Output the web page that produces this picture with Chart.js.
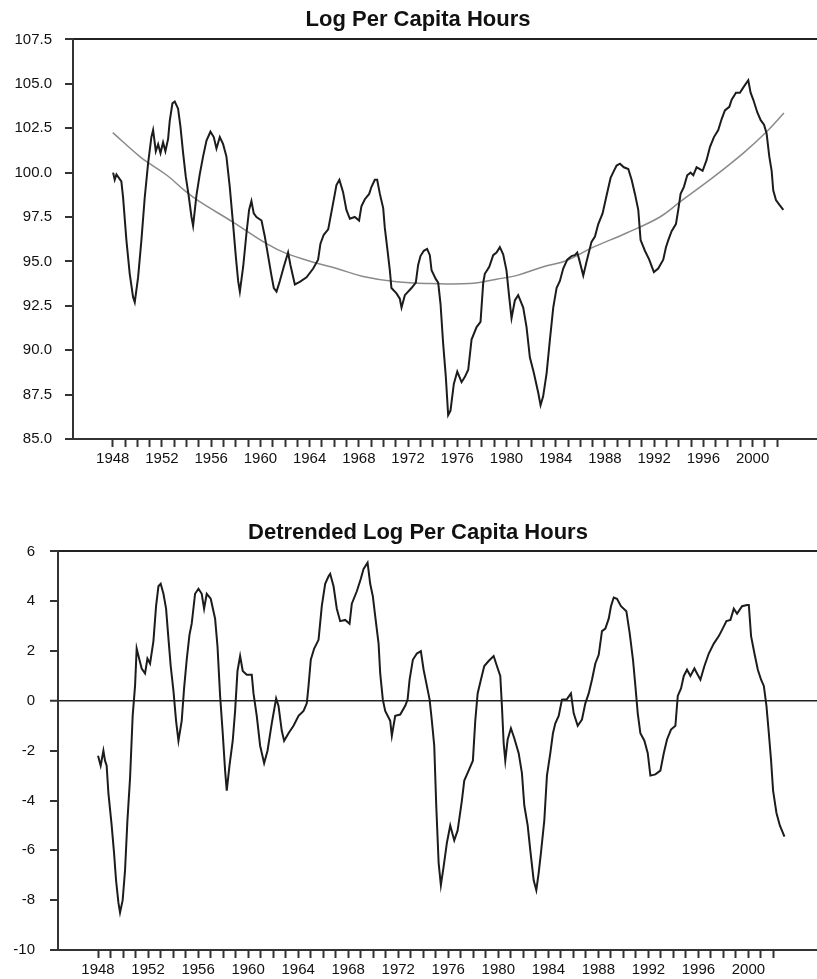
<!DOCTYPE html>
<html>
<head>
<meta charset="utf-8">
<script src="https://cdn.jsdelivr.net/npm/chart.js@4.4.1/dist/chart.umd.min.js"></script>
<style>
html, body { margin: 0; padding: 0; background: #fff; overflow: hidden; width: 817px; height: 979px; }
#hoursChart { position: absolute; left: 0; top: 0; }
#detrendedChart { position: absolute; left: 0; top: 480px; }
</style>
</head>
<body>
<canvas id="hoursChart" width="836" height="480"></canvas>
<canvas id="detrendedChart" width="836" height="506"></canvas>
<script>
// log per capita hours (year, value)
var hoursYears = [1948.03, 1948.16, 1948.30, 1948.70, 1948.84, 1949.11, 1949.38, 1949.65, 1949.79, 1950.06,
    1950.33, 1950.60, 1950.87, 1951.14, 1951.28, 1951.50, 1951.69, 1951.88, 1952.09, 1952.28,
    1952.50, 1952.63, 1952.85, 1953.04, 1953.31, 1953.50, 1953.72, 1953.93, 1954.15, 1954.40,
    1954.53, 1954.80, 1955.07, 1955.34, 1955.62, 1955.94, 1956.21, 1956.43, 1956.70, 1956.97,
    1957.24, 1957.51, 1957.78, 1958.00, 1958.19, 1958.33, 1958.60, 1958.87, 1959.08, 1959.27,
    1959.46, 1959.68, 1960.09, 1960.36, 1960.63, 1960.90, 1961.09, 1961.31, 1961.58, 1961.90,
    1962.25, 1962.44, 1962.80, 1963.20, 1963.75, 1964.29, 1964.69, 1964.88, 1965.15, 1965.51,
    1965.78, 1966.05, 1966.18, 1966.42, 1966.72, 1966.99, 1967.27, 1967.67, 1968.02, 1968.21,
    1968.49, 1968.84, 1969.03, 1969.30, 1969.49, 1969.71, 1969.98, 1970.11, 1970.30, 1970.52,
    1970.65, 1971.06, 1971.33, 1971.47, 1971.74, 1972.28, 1972.63, 1972.82, 1973.01, 1973.28,
    1973.55, 1973.77, 1973.91, 1974.26, 1974.45, 1974.64, 1974.85, 1975.07, 1975.26, 1975.45,
    1975.72, 1976.00, 1976.35, 1976.62, 1976.89, 1977.16, 1977.57, 1977.89, 1978.11, 1978.24,
    1978.60, 1978.92, 1979.19, 1979.46, 1979.73, 1980.00, 1980.22, 1980.41, 1980.68, 1980.95,
    1981.36, 1981.63, 1981.90, 1982.23, 1982.58, 1982.77, 1982.98, 1983.26, 1983.53, 1983.80,
    1984.07, 1984.34, 1984.61, 1984.94, 1985.29, 1985.56, 1985.75, 1985.91, 1986.24, 1986.51,
    1986.91, 1987.19, 1987.46, 1987.81, 1988.13, 1988.46, 1988.73, 1988.95, 1989.22, 1989.54,
    1989.90, 1990.17, 1990.44, 1990.71, 1990.90, 1991.25, 1991.60, 1991.98, 1992.33, 1992.74,
    1992.96, 1993.15, 1993.42, 1993.77, 1993.96, 1994.15, 1994.42, 1994.69, 1994.96, 1995.18,
    1995.45, 1995.72, 1995.94, 1996.26, 1996.54, 1996.86, 1997.21, 1997.48, 1997.75, 1998.11,
    1998.30, 1998.65, 1998.97, 1999.25, 1999.65, 1999.84, 2000.06, 2000.38, 2000.66, 2000.93,
    2001.14, 2001.36, 2001.55, 2001.68, 2001.90, 2002.17, 2002.50];
var hoursValues = [100.0, 99.6, 99.9, 99.5, 98.6, 96.2, 94.3, 93.0, 92.7, 94.1,
    96.2, 98.6, 100.5, 102.0, 102.4, 101.2, 101.6, 101.1, 101.7, 101.2,
    101.9, 102.9, 103.9, 104.0, 103.6, 102.6, 101.1, 99.8, 98.8, 97.5,
    97.0, 98.7, 99.9, 100.9, 101.8, 102.3, 102.0, 101.35, 102.0, 101.6,
    100.9, 99.2, 97.1, 95.3, 93.9, 93.3, 94.7, 96.6, 97.9, 98.4,
    97.7, 97.5, 97.3, 96.4, 95.3, 94.2, 93.5, 93.3, 93.9, 94.7,
    95.5, 94.8, 93.7, 93.85, 94.1, 94.6, 95.1, 96.0, 96.5, 96.8,
    97.8, 98.8, 99.3, 99.6, 98.9, 97.9, 97.4, 97.5, 97.3, 98.1,
    98.5, 98.8, 99.2, 99.6, 99.6, 98.8, 98.0, 96.9, 95.8, 94.5,
    93.5, 93.2, 92.9, 92.4, 93.1, 93.5, 93.8, 94.8, 95.3, 95.6,
    95.7, 95.35, 94.5, 94.0, 93.8, 92.6, 90.4, 88.5, 86.35, 86.6,
    88.1, 88.8, 88.2, 88.5, 88.9, 90.6, 91.3, 91.6, 93.8, 94.3,
    94.7, 95.35, 95.5, 95.8, 95.4, 94.5, 93.0, 91.8, 92.8, 93.1,
    92.4, 91.3, 89.6, 88.7, 87.6, 86.9, 87.4, 88.7, 90.6, 92.4,
    93.5, 93.9, 94.6, 95.1, 95.3, 95.35, 95.5, 95.1, 94.2, 95.0,
    96.1, 96.4, 97.1, 97.7, 98.7, 99.7, 100.1, 100.4, 100.5, 100.3,
    100.2, 99.6, 98.8, 97.9, 96.2, 95.6, 95.1, 94.4, 94.6, 95.1,
    95.8, 96.2, 96.7, 97.1, 97.9, 98.8, 99.2, 99.85, 100.0, 99.85,
    100.3, 100.2, 100.1, 100.7, 101.45, 102.0, 102.4, 103.0, 103.5, 103.7,
    104.1, 104.5, 104.5, 104.8, 105.2, 104.5, 104.1, 103.4, 102.95, 102.7,
    102.2, 100.9, 100.1, 99.0, 98.45, 98.2, 97.9];

// fitted trend (grey curve)
var trendYears = [1948.0, 1950.2, 1951.0, 1952.4, 1954.0, 1955.1, 1957.8, 1960.5, 1962.1, 1964.6,
    1966.2, 1968.35, 1971.06, 1973.8, 1977.0, 1979.2, 1980.8, 1983.0, 1984.9, 1987.05,
    1989.76, 1992.47, 1994.1, 1996.54, 1999.25, 2001.14, 2002.55];
var trendValues = [102.25, 100.9, 100.5, 99.85, 98.9, 98.35, 97.2, 96.0, 95.45, 94.9,
    94.6, 94.15, 93.85, 93.75, 93.75, 94.0, 94.2, 94.7, 95.05, 95.8,
    96.6, 97.5, 98.35, 99.6, 101.1, 102.3, 103.35];

// detrended series
var detrendYears = [1948.0, 1948.21, 1948.43, 1948.56, 1948.69, 1948.83, 1949.09, 1949.28, 1949.44, 1949.63,
    1949.76, 1949.97, 1950.16, 1950.35, 1950.56, 1950.77, 1950.96, 1951.09, 1951.31, 1951.49,
    1951.76, 1951.95, 1952.16, 1952.43, 1952.64, 1952.83, 1953.01, 1953.23, 1953.44, 1953.63,
    1953.81, 1954.03, 1954.24, 1954.43, 1954.69, 1954.88, 1955.09, 1955.31, 1955.49, 1955.76,
    1956.03, 1956.29, 1956.48, 1956.69, 1957.01, 1957.36, 1957.55, 1957.76, 1957.97, 1958.16,
    1958.29, 1958.51, 1958.77, 1958.96, 1959.15, 1959.36, 1959.57, 1959.89, 1960.29, 1960.43,
    1960.69, 1960.96, 1961.28, 1961.55, 1961.89, 1962.24, 1962.43, 1962.69, 1962.88, 1963.23,
    1963.63, 1964.03, 1964.43, 1964.69, 1964.83, 1965.01, 1965.28, 1965.63, 1965.89, 1966.16,
    1966.43, 1966.56, 1966.83, 1967.09, 1967.36, 1967.76, 1968.11, 1968.29, 1968.69, 1969.01,
    1969.23, 1969.55, 1969.76, 1969.97, 1970.16, 1970.43, 1970.56, 1970.77, 1970.96, 1971.36,
    1971.49, 1971.76, 1972.16, 1972.56, 1972.75, 1972.91, 1973.17, 1973.49, 1973.81, 1974.03,
    1974.29, 1974.51, 1974.69, 1974.88, 1975.04, 1975.23, 1975.41, 1975.63, 1975.89, 1976.16,
    1976.48, 1976.75, 1977.09, 1977.28, 1977.63, 1977.97, 1978.16, 1978.35, 1978.61, 1978.88,
    1979.23, 1979.63, 1979.89, 1980.16, 1980.29, 1980.43, 1980.56, 1980.75, 1981.01, 1981.28,
    1981.63, 1981.89, 1982.08, 1982.35, 1982.56, 1982.83, 1983.04, 1983.23, 1983.41, 1983.68,
    1983.89, 1984.16, 1984.37, 1984.56, 1984.83, 1985.09, 1985.49, 1985.81, 1986.03, 1986.35,
    1986.69, 1986.96, 1987.23, 1987.49, 1987.76, 1988.03, 1988.29, 1988.56, 1988.83, 1989.01,
    1989.23, 1989.49, 1989.81, 1990.24, 1990.51, 1990.77, 1990.96, 1991.15, 1991.36, 1991.68,
    1991.95, 1992.16, 1992.56, 1992.96, 1993.23, 1993.49, 1993.81, 1994.16, 1994.35, 1994.61,
    1994.83, 1995.09, 1995.36, 1995.68, 1995.89, 1996.16, 1996.48, 1996.83, 1997.23, 1997.63,
    1997.89, 1998.24, 1998.56, 1998.83, 1999.09, 1999.49, 1999.89, 2000.03, 2000.21, 2000.48,
    2000.75, 2001.01, 2001.23, 2001.44, 2001.63, 2001.81, 2001.97, 2002.24, 2002.51, 2002.88];
var detrendValues = [-2.2, -2.6, -2.0, -2.4, -2.6, -3.7, -5.0, -6.1, -7.2, -8.1,
    -8.5, -8.0, -6.8, -4.8, -3.1, -0.6, 0.6, 2.1, 1.65, 1.3,
    1.1, 1.7, 1.5, 2.4, 3.8, 4.6, 4.7, 4.3, 3.7, 2.5,
    1.4, 0.4, -0.8, -1.6, -0.8, 0.5, 1.65, 2.65, 3.1, 4.3,
    4.5, 4.3, 3.7, 4.3, 4.1, 3.3, 2.2, 0.2, -1.3, -2.8,
    -3.6, -2.6, -1.6, -0.4, 1.2, 1.8, 1.2, 1.05, 1.05, 0.3,
    -0.6, -1.8, -2.5, -2.0, -0.9, 0.1, -0.2, -1.2, -1.6, -1.3,
    -1.0, -0.6, -0.4, -0.1, 0.6, 1.65, 2.1, 2.45, 3.8, 4.7,
    5.0, 5.1, 4.6, 3.7, 3.2, 3.25, 3.1, 3.9, 4.4, 4.9,
    5.3, 5.55, 4.7, 4.2, 3.4, 2.3, 1.1, 0.05, -0.4, -0.8,
    -1.4, -0.6, -0.55, -0.2, 0.05, 0.85, 1.65, 1.9, 2.0, 1.25,
    0.6, 0.05, -0.8, -1.8, -4.2, -6.5, -7.4, -6.65, -5.7, -5.0,
    -5.6, -5.2, -4.0, -3.2, -2.8, -2.4, -0.8, 0.3, 0.85, 1.4,
    1.6, 1.8, 1.4, 1.0, -0.2, -1.7, -2.4, -1.55, -1.1, -1.5,
    -2.1, -2.9, -4.2, -5.0, -6.0, -7.2, -7.6, -6.9, -6.1, -4.8,
    -3.0, -2.1, -1.3, -0.9, -0.6, 0.05, 0.07, 0.3, -0.5, -1.0,
    -0.75, -0.1, 0.3, 0.85, 1.5, 1.85, 2.8, 2.9, 3.3, 3.8,
    4.15, 4.1, 3.8, 3.6, 2.7, 1.65, 0.6, -0.5, -1.3, -1.6,
    -2.1, -3.0, -2.95, -2.8, -2.1, -1.55, -1.15, -1.0, 0.2, 0.5,
    1.0, 1.25, 1.0, 1.3, 1.1, 0.85, 1.4, 1.9, 2.3, 2.6,
    2.85, 3.2, 3.25, 3.7, 3.5, 3.8, 3.85, 3.85, 2.6, 1.9,
    1.25, 0.85, 0.6, -0.2, -1.3, -2.4, -3.6, -4.5, -5.0, -5.45];

// axis ticks
var labelYears = [1948, 1952, 1956, 1960, 1964, 1968, 1972, 1976, 1980, 1984, 1988, 1992, 1996, 2000];
var hoursTicks = [85, 87.5, 90, 92.5, 95, 97.5, 100, 102.5, 105, 107.5];
var detrendTicks = [-10, -8, -6, -4, -2, 0, 2, 4, 6];
var tickYears = [];
for (var yr = 1948; yr <= 2002; yr++) {
    tickYears.push(yr);
}

var tickFont = { family: "'Liberation Sans', Arial, sans-serif", size: 15 };
var titleFont = { family: "'Liberation Sans', Arial, sans-serif", size: 22, weight: 'bold', lineHeight: 1.2 };

function toPoints(xs, ys) {
    return xs.map(function (x, i) { return { x: x, y: ys[i] }; });
}

function yearAxis(min, max, height) {
    return {
        type: 'linear',
        min: min,
        max: max,
        bounds: 'data',
        afterBuildTicks: function (scale) {
            scale.ticks = tickYears.map(function (v) { return { value: v }; });
        },
        afterFit: function (scale) { scale.height = height; },
        grid: { drawOnChartArea: false, drawTicks: true, tickLength: 8, tickWidth: 2, tickColor: '#333' },
        border: { display: true, color: '#333', width: 2 },
        ticks: {
            autoSkip: false,
            maxRotation: 0,
            padding: 3,
            color: '#111',
            font: tickFont,
            callback: function (v) { return labelYears.indexOf(v) >= 0 ? String(v) : ''; }
        }
    };
}

function valueAxis(min, max, ticks, width, padding, fmt, lineFor) {
    return {
        min: min,
        max: max,
        afterBuildTicks: function (scale) {
            scale.ticks = ticks.map(function (v) { return { value: v }; });
        },
        afterFit: function (scale) { scale.width = width; },
        grid: {
            drawOnChartArea: true,
            color: function (ctx) { return lineFor(ctx.tick ? ctx.tick.value : null) ? '#222' : 'rgba(0,0,0,0)'; },
            lineWidth: function (ctx) { return ctx.tick && ctx.tick.value === 0 ? 1.5 : 2; },
            tickLength: 8,
            tickWidth: 2,
            tickColor: '#333'
        },
        border: { display: true, color: '#333', width: 2 },
        ticks: { padding: padding, color: '#111', font: tickFont, callback: fmt }
    };
}

var hoursChart = new Chart(document.getElementById('hoursChart').getContext('2d'), {
    type: 'line',
    data: {
        datasets: [{
            data: toPoints(hoursYears, hoursValues),
            borderColor: '#1c1c1c',
            borderWidth: 2,
            pointRadius: 0,
            tension: 0
        }, {
            data: toPoints(trendYears, trendValues),
            borderColor: '#8a8a8a',
            borderWidth: 1.5,
            pointRadius: 0,
            tension: 0.4
        }]
    },
    options: {
        responsive: false,
        animation: false,
        layout: { padding: 0 },
        plugins: {
            legend: { display: false },
            tooltip: { enabled: false },
            title: { display: true, text: 'Log Per Capita Hours', color: '#111', font: titleFont, padding: { top: 7, bottom: 6 } }
        },
        scales: {
            x: yearAxis(1944.77, 2006.78, 41),
            y: valueAxis(85, 107.5, hoursTicks, 73, 13,
                function (v) { return v.toFixed(1); },
                function (v) { return v === 107.5; })
        }
    }
});

var detrendedChart = new Chart(document.getElementById('detrendedChart').getContext('2d'), {
    type: 'line',
    data: {
        datasets: [{
            data: toPoints(detrendYears, detrendValues),
            borderColor: '#1c1c1c',
            borderWidth: 2,
            pointRadius: 0,
            tension: 0
        }]
    },
    options: {
        responsive: false,
        animation: false,
        layout: { padding: 0 },
        plugins: {
            legend: { display: false },
            tooltip: { enabled: false },
            title: { display: true, text: 'Detrended Log Per Capita Hours', color: '#111', font: titleFont, padding: { top: 40, bottom: 5 } }
        },
        scales: {
            x: yearAxis(1944.8, 2007.0, 36),
            y: valueAxis(-10, 6, detrendTicks, 58, 15,
                function (v) { return String(v); },
                function (v) { return v === 0 || v === 6; })
        }
    }
});
</script>
</body>
</html>
